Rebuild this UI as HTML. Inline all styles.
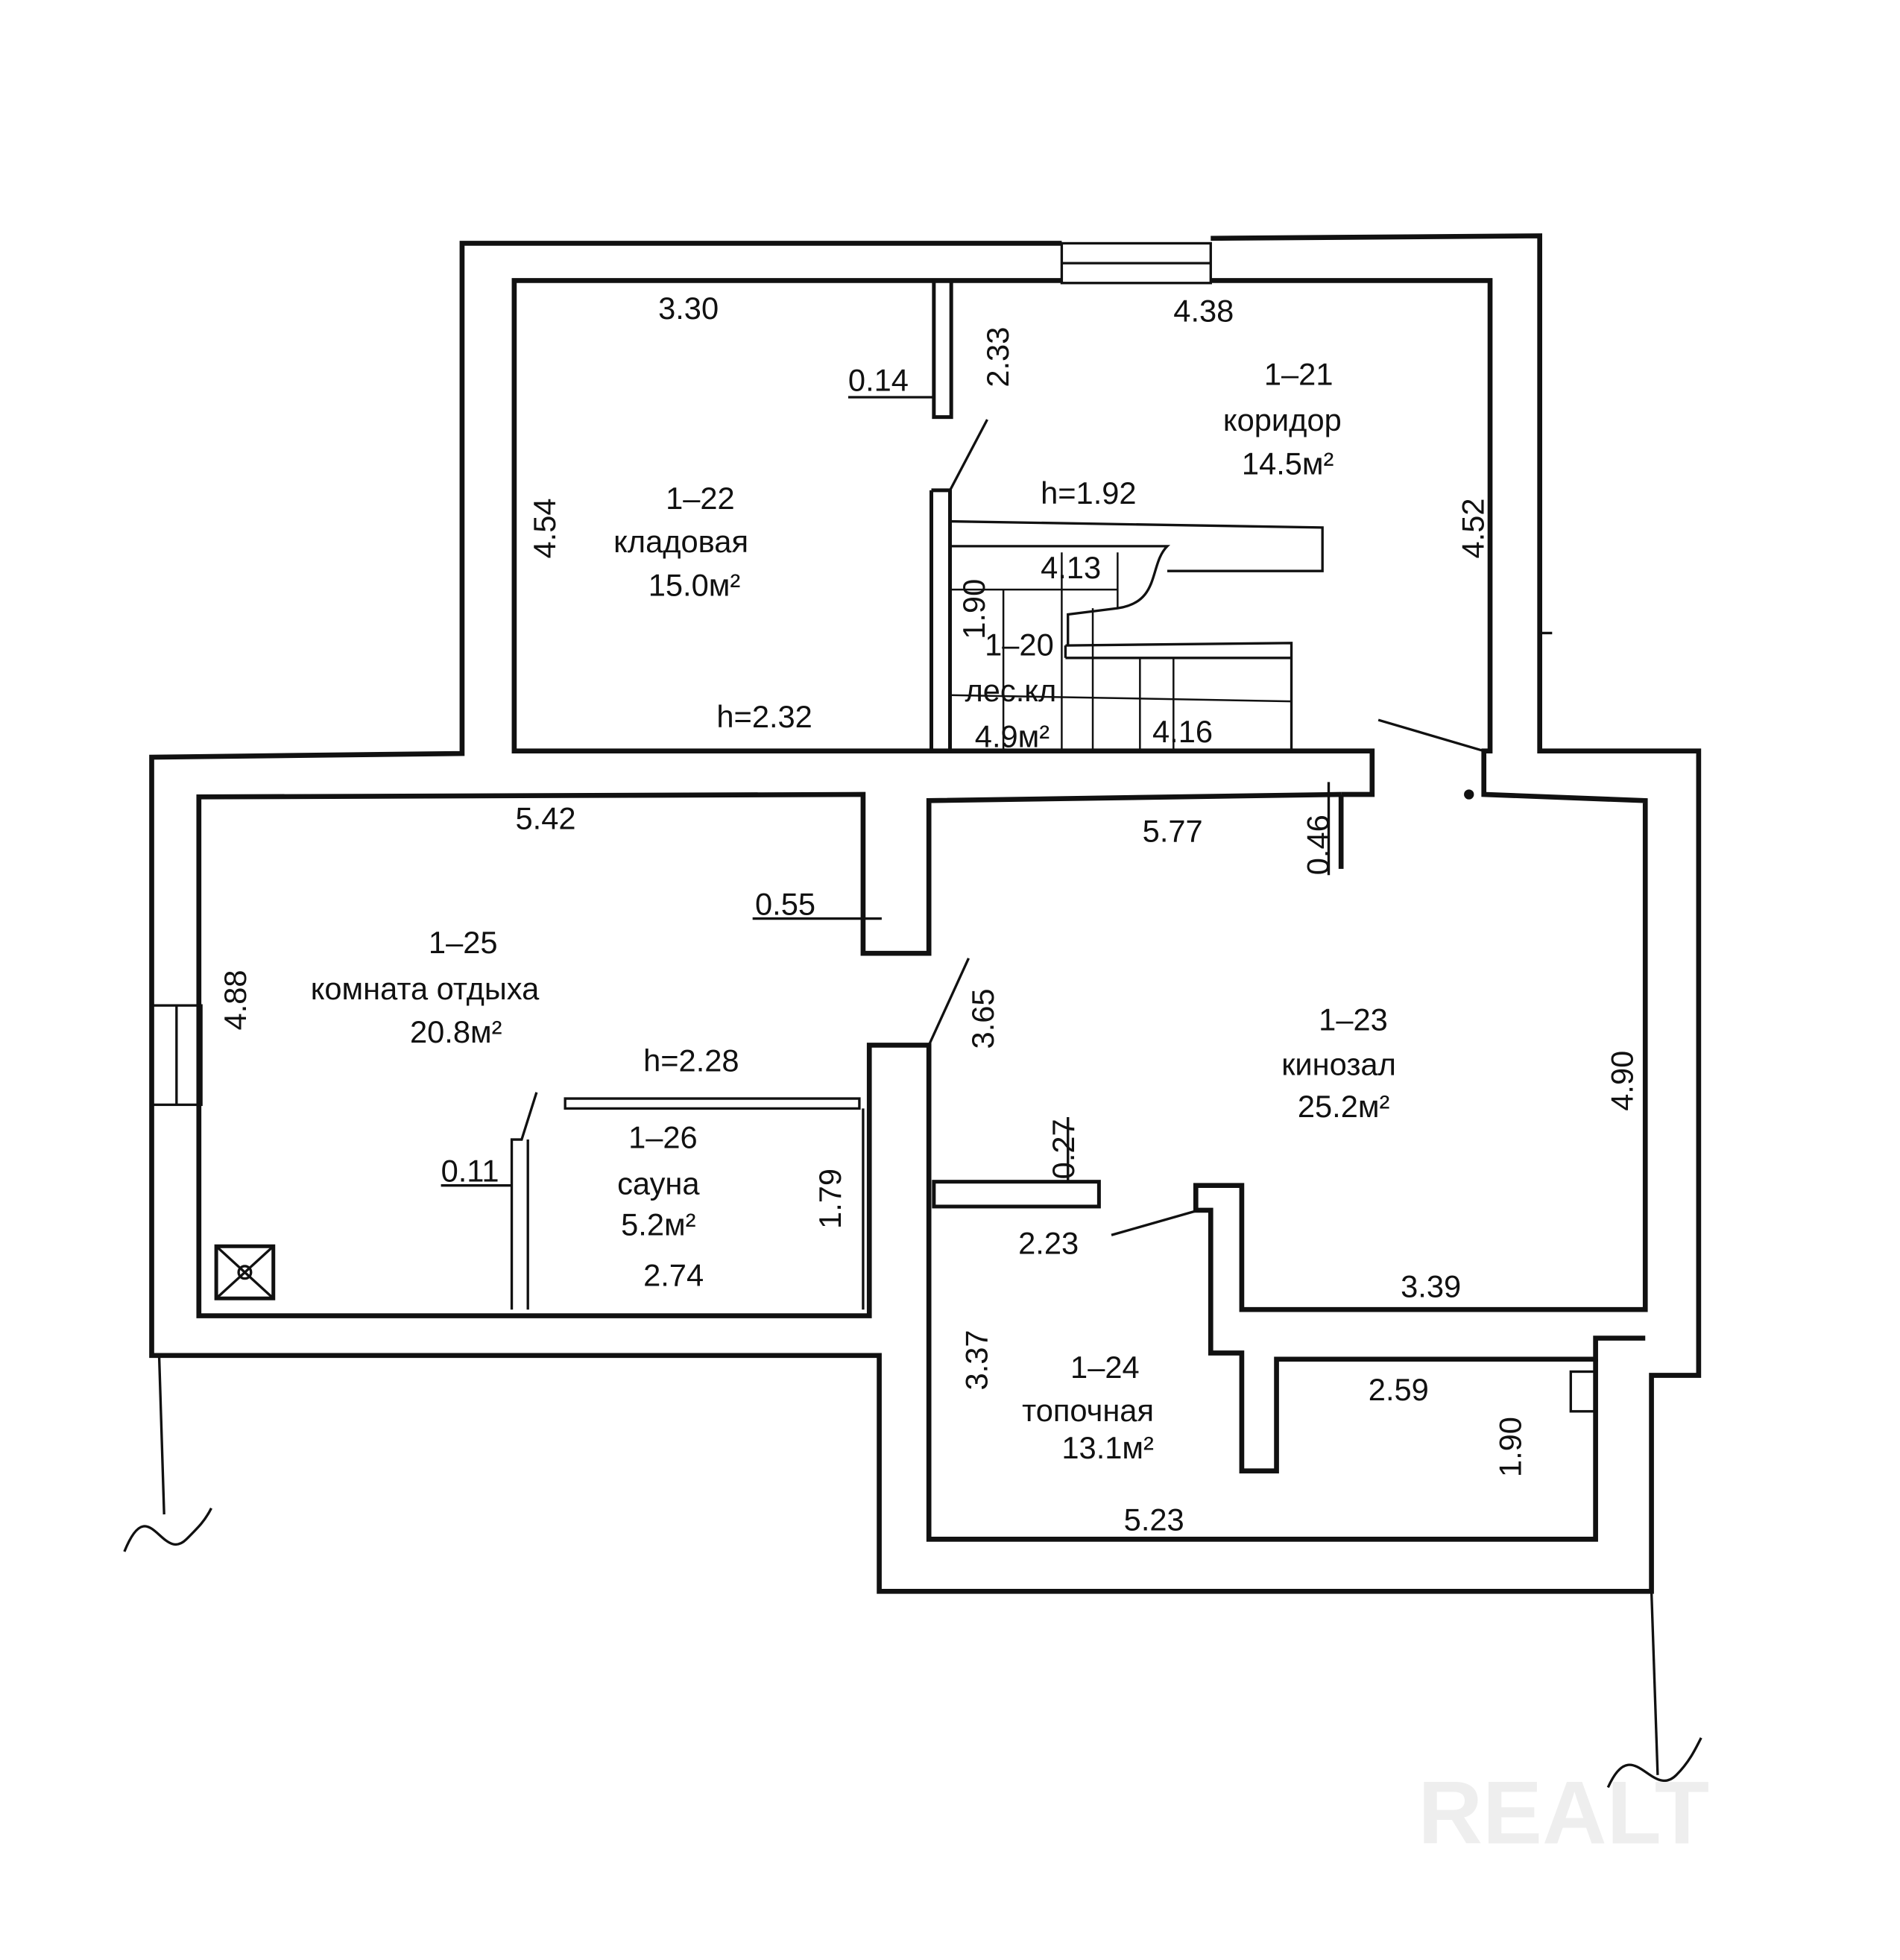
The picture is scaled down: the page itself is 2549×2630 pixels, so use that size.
<!DOCTYPE html>
<html><head><meta charset="utf-8"><style>
html,body{margin:0;padding:0;background:#fff;}
svg{display:block}
text{font-family:"Liberation Sans",sans-serif;fill:#111;font-size:25px}
</style></head><body>
<svg width="2549" height="2630" viewBox="0 0 1530 1579" xmlns="http://www.w3.org/2000/svg">
<rect width="1530" height="1579" fill="#fff"/>
<g fill="none" stroke="#111" stroke-width="4" stroke-linejoin="miter">
<!-- outer wall -->
<polyline points="855,196 372,196 372,607 122,610 122,1092 708,1092 708,1282 1330,1282 1330,1108 1368,1108 1368,605 1240,605 1240,190 975,192"/>
<!-- top window -->
<rect x="855" y="196" width="120" height="32" stroke-width="2"/>
<line x1="855" y1="212" x2="975" y2="212" stroke-width="2"/>
<!-- top rooms inner -->
<polyline points="855,226 414,226 414,605 1105,605 1105,640 1080,640"/>
<polyline points="975,226 1200,226 1200,605 1195,605 1195,640 1325,645 1325,1055 1000,1055 1000,955 963,955 963,975 975,975 975,1090 1000,1090 1000,1185 1028,1185 1028,1095 1285,1095 1285,1078 1325,1078"/>
<!-- kinozal top -->
<polyline points="1080,640 1080,700"/>
<polyline points="1080,640 748,645 748,768 695,768 695,640 160,642 160,1060 700,1060 700,842 748,842 748,1240 1285,1240 1285,1095"/>
<!-- left window -->
<rect x="122" y="810" width="40" height="80" stroke-width="2"/>
<line x1="142" y1="810" x2="142" y2="890" stroke-width="2"/>
<!-- partition 1-22 -->
<rect x="752" y="226" width="14" height="110" stroke-width="3"/>
<!-- stair -->
<polyline points="750,395 765,395 765,605" stroke-width="3"/>
<line x1="750" y1="395" x2="750" y2="605" stroke-width="3"/>
<polyline points="765,420 1065,425 1065,460 940,460" stroke-width="2"/>
<polyline points="858,520 1040,518 1040,605" stroke-width="2"/>
<line x1="858" y1="520" x2="858" y2="530" stroke-width="2"/>
<line x1="858" y1="530" x2="1040" y2="530" stroke-width="2"/>
<path d="M765,440 H940 C925,455 935,485 900,490 L860,495 V520" stroke-width="2"/>
<line x1="808" y1="475" x2="808" y2="605" stroke-width="1.5"/>
<line x1="855" y1="445" x2="855" y2="605" stroke-width="1.5"/>
<line x1="880" y1="490" x2="880" y2="605" stroke-width="1.5"/>
<line x1="900" y1="445" x2="900" y2="490" stroke-width="1.5"/>
<line x1="918" y1="530" x2="918" y2="605" stroke-width="1.5"/>
<line x1="945" y1="530" x2="945" y2="605" stroke-width="1.5"/>
<line x1="765" y1="475" x2="900" y2="475" stroke-width="1.5"/>
<line x1="765" y1="560" x2="1040" y2="565" stroke-width="1.5"/>
<line x1="765" y1="395" x2="795" y2="338" stroke-width="2"/>
<!-- door corridor -->
<line x1="1110" y1="580" x2="1195" y2="605" stroke-width="2"/>
<circle cx="1183" cy="640" r="2" fill="#111"/>
<!-- door kinozal -->
<line x1="748" y1="842" x2="780" y2="772" stroke-width="2"/>
<!-- sauna -->
<path d="M455,885 H692 V893 H455 Z" stroke-width="2"/>
<line x1="695" y1="893" x2="695" y2="1055" stroke-width="2"/>
<polyline points="412,1055 412,918 420,918 432,880" stroke-width="2"/>
<line x1="425" y1="918" x2="425" y2="1055" stroke-width="2"/>
<!-- kinozal small wall -->
<rect x="752" y="952" width="133" height="20" stroke-width="3"/>
<line x1="895" y1="995" x2="965" y2="975" stroke-width="2"/>
<!-- boiler box -->
<rect x="1265" y="1105" width="20" height="32" stroke-width="2"/>
<!-- drain -->
<rect x="174" y="1004" width="46" height="42" stroke-width="3"/>
<line x1="174" y1="1004" x2="220" y2="1046" stroke-width="2"/>
<line x1="220" y1="1004" x2="174" y2="1046" stroke-width="2"/>
<circle cx="197" cy="1025" r="5" stroke-width="2"/>
<!-- break lines -->
<line x1="128" y1="1092" x2="132" y2="1220" stroke-width="2"/>
<path d="M100,1250 C120,1200 130,1260 150,1240 C160,1230 165,1225 170,1215" stroke-width="2"/>
<line x1="1330" y1="1282" x2="1335" y2="1430" stroke-width="2"/>
<path d="M1295,1440 C1315,1395 1330,1450 1350,1430 C1360,1420 1365,1410 1370,1400" stroke-width="2"/>
<line x1="1240" y1="510" x2="1250" y2="510" stroke-width="2"/>
<!-- dimension underlines -->
<line x1="683" y1="320" x2="752" y2="320" stroke-width="2"/>
<line x1="606" y1="740" x2="710" y2="740" stroke-width="2"/>
<line x1="355" y1="955" x2="412" y2="955" stroke-width="2"/>
<line x1="1070" y1="630" x2="1070" y2="705" stroke-width="2"/>
<line x1="860" y1="900" x2="860" y2="952" stroke-width="2"/>
</g>
<g>
<text x="530" y="257">3.30</text>
<text x="945" y="259">4.38</text>
<text x="683" y="315">0.14</text>
<text transform="translate(812,312) rotate(-90)">2.33</text>
<text x="1018" y="310">1–21</text>
<text x="985" y="347">коридор</text>
<text x="1000" y="382">14.5м²</text>
<text transform="translate(1195,450) rotate(-90)">4.52</text>
<text transform="translate(447,450) rotate(-90)">4.54</text>
<text x="536" y="410">1–22</text>
<text x="494" y="445">кладовая</text>
<text x="522" y="480">15.0м²</text>
<text x="838" y="406">h=1.92</text>
<text x="838" y="466">4.13</text>
<text transform="translate(793,515) rotate(-90)">1.90</text>
<text x="793" y="528">1–20</text>
<text x="777" y="565">лес.кл</text>
<text x="785" y="602">4.9м²</text>
<text x="928" y="598">4.16</text>
<text x="577" y="586">h=2.32</text>
<text x="415" y="668">5.42</text>
<text x="920" y="678">5.77</text>
<text transform="translate(1070,705) rotate(-90)">0.46</text>
<text x="608" y="737">0.55</text>
<text transform="translate(198,830) rotate(-90)">4.88</text>
<text x="345" y="768">1–25</text>
<text x="250" y="805">комната отдыха</text>
<text x="330" y="840">20.8м²</text>
<text transform="translate(800,845) rotate(-90)">3.65</text>
<text x="518" y="863">h=2.28</text>
<text x="1062" y="830">1–23</text>
<text x="1032" y="866">кинозал</text>
<text x="1045" y="900">25.2м²</text>
<text transform="translate(1315,895) rotate(-90)">4.90</text>
<text x="506" y="925">1–26</text>
<text x="497" y="962">сауна</text>
<text x="500" y="995">5.2м²</text>
<text x="355" y="952">0.11</text>
<text transform="translate(677,990) rotate(-90)">1.79</text>
<text transform="translate(865,950) rotate(-90)">0.27</text>
<text x="820" y="1010">2.23</text>
<text x="518" y="1036">2.74</text>
<text x="1128" y="1045">3.39</text>
<text transform="translate(795,1120) rotate(-90)">3.37</text>
<text x="862" y="1110">1–24</text>
<text x="823" y="1145">топочная</text>
<text x="855" y="1175">13.1м²</text>
<text x="1102" y="1128">2.59</text>
<text transform="translate(1225,1190) rotate(-90)">1.90</text>
<text x="905" y="1233">5.23</text>
<text x="1142" y="1485" style="font-size:72px;font-weight:bold;fill:#eee">REALT</text>
</g>
</svg>
</body></html>
